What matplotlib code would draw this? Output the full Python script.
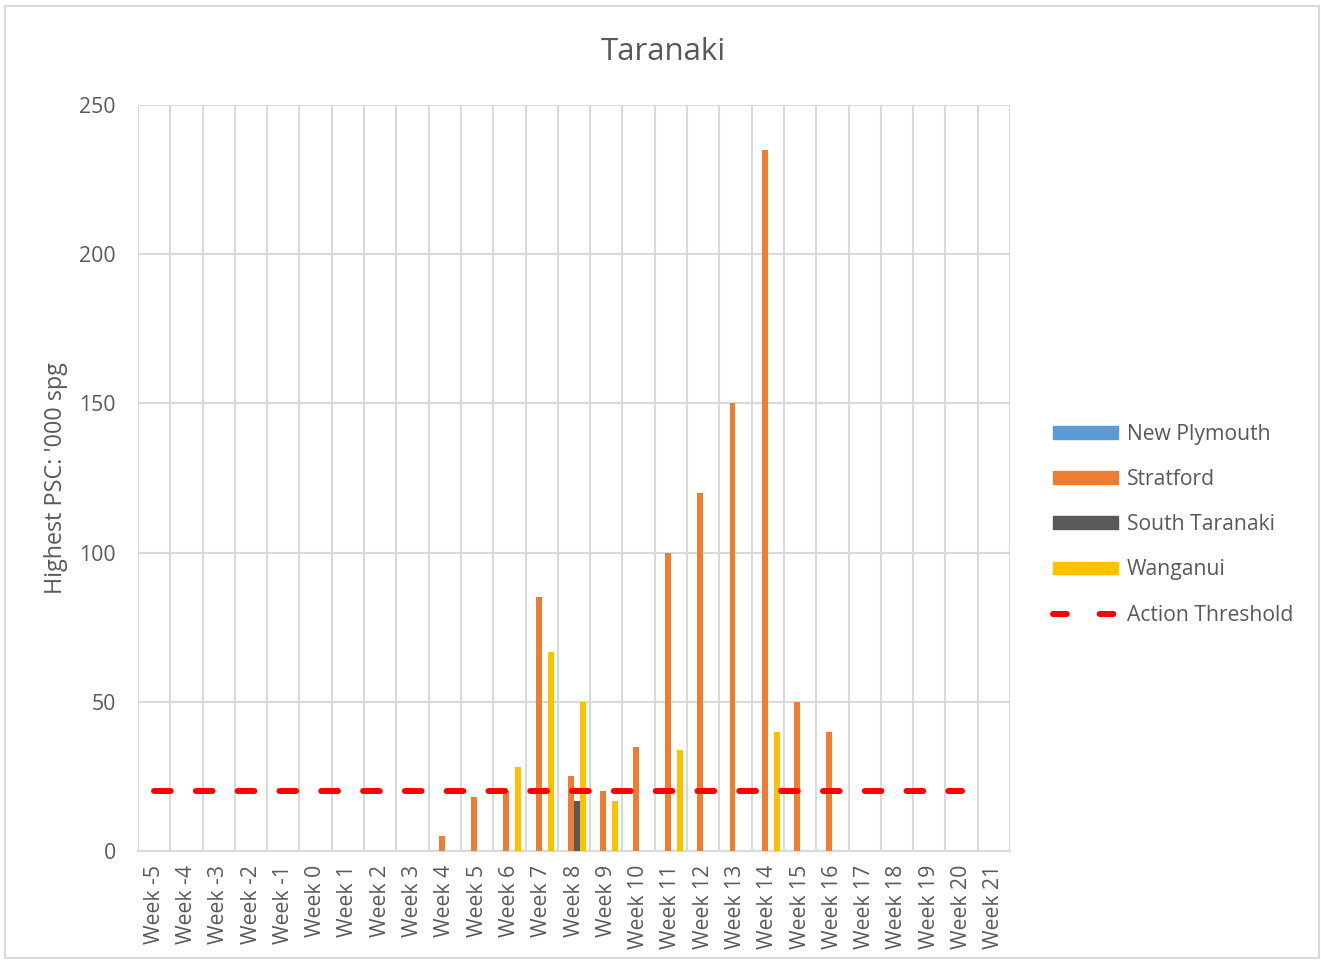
import numpy as np
import matplotlib.pyplot as plt
from matplotlib.lines import Line2D
from matplotlib.patches import Patch, Rectangle

# data
weeks = ["Week %d" % w for w in range(-5, 22)]
new_plymouth = [0] * 27
stratford = [0, 0, 0, 0, 0, 0, 0, 0, 0, 5, 18, 20, 85, 25, 20, 35,
             100, 120, 150, 235, 50, 40, 0, 0, 0, 0, 0]
south_taranaki = [0, 0, 0, 0, 0, 0, 0, 0, 0, 0, 0, 0, 0, 16.7, 0, 0,
                  0, 0, 0, 0, 0, 0, 0, 0, 0, 0, 0]
wanganui = [0, 0, 0, 0, 0, 0, 0, 0, 0, 0, 0, 28, 66.7, 50, 16.7, 0,
            34, 0, 0, 40, 0, 0, 0, 0, 0, 0, 0]
threshold = [20] * 26 + [np.nan]

series = [("New Plymouth", new_plymouth, "#5B9BD5"),
          ("Stratford", stratford, "#ED7D31"),
          ("South Taranaki", south_taranaki, "#595959"),
          ("Wanganui", wanganui, "#FFC000")]

txt = "#595959"
grid = "#D9D9D9"
plt.rcParams['font.family'] = ['Open Sans', 'DejaVu Sans']

fig = plt.figure(figsize=(13.22, 9.61), dpi=100)
ax = fig.add_axes([0.1044, 0.1145, 0.6596, 0.7762])

x = np.arange(len(weeks))
w = 0.185
for i, (name, vals, col) in enumerate(series):
    ax.bar(x + (i - 1.5) * w, vals, width=w, color=col, label=name, zorder=3)

# dash pattern in linewidth units: ~17px on, ~25px off at 6px thick
ax.plot(x, threshold, color="#FF0000", lw=4.3, dashes=(2.8, 4.2),
        dash_capstyle="round", zorder=4)

ax.set_xlim(-0.5, len(weeks) - 0.5)
ax.set_ylim(0, 250)
ax.set_yticks(np.arange(0, 251, 50))
ax.set_xticks(x)
ax.set_xticklabels(weeks, rotation=90, va="top", ha="center")
ax.set_xticks(np.arange(-0.5, len(weeks), 1), minor=True)
ax.grid(False)
ax.grid(True, which="minor", axis="x", color=grid, lw=1.5, zorder=0)
ax.grid(True, which="major", axis="y", color=grid, lw=1.5, zorder=0)
for s in ["left", "right", "top"]:
    ax.spines[s].set_visible(False)
ax.spines["bottom"].set_color(grid)
ax.spines["bottom"].set_linewidth(1.5)
ax.tick_params(axis="both", which="both", length=0, colors=txt, labelsize=15.3)
ax.tick_params(axis="y", pad=16)
ax.tick_params(axis="x", pad=10)
ax.set_ylabel("Highest PSC: '000 spg", color=txt, fontsize=16.8, labelpad=8)

fig.text(0.5015, 0.946, "Taranaki", ha="center", va="center", color=txt, fontsize=22.5)

handles = [Patch(color=c, label=n) for n, _, c in series]
handles.append(Line2D([0], [0], color="#FF0000", lw=4.3, dashes=(2.3, 5.5),
                      dash_capstyle="round", label="Action Threshold"))
leg = fig.legend(handles=handles, loc="center left", bbox_to_anchor=(0.790, 0.454),
                 frameon=False, fontsize=15.2, handlelength=3.1, handleheight=0.55,
                 labelspacing=1.15, handletextpad=0.4, borderaxespad=0)
for t in leg.get_texts():
    t.set_color(txt)

fig.patches.append(Rectangle((0.004, 0.003), 0.994, 0.991, transform=fig.transFigure,
                             fill=False, edgecolor=grid, lw=1.5))

fig.savefig("out.png", dpi=100)
